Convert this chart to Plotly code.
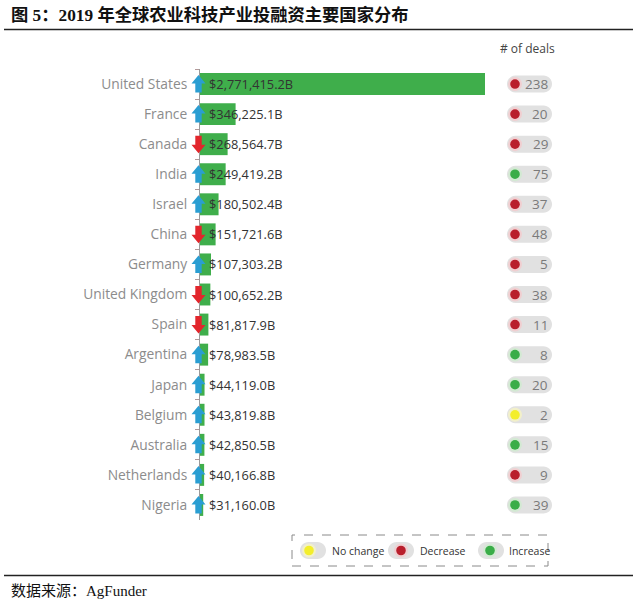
import plotly.graph_objects as go

W, H = 640, 605

countries = ["United States", "France", "Canada", "India", "Israel", "China", "Germany",
             "United Kingdom", "Spain", "Argentina", "Japan", "Belgium", "Australia",
             "Netherlands", "Nigeria"]
funding = [2771415.2, 346225.1, 268564.7, 249419.2, 180502.4, 151721.6, 107303.2,
           100652.2, 81817.9, 78983.5, 44119.0, 43819.8, 42850.5, 40166.8, 31160.0]
value_labels = ["$2,771,415.2B", "$346,225.1B", "$268,564.7B", "$249,419.2B", "$180,502.4B",
                "$151,721.6B", "$107,303.2B", "$100,652.2B", "$81,817.9B", "$78,983.5B",
                "$44,119.0B", "$43,819.8B", "$42,850.5B", "$40,166.8B", "$31,160.0B"]
rank_trend = ["up", "up", "down", "up", "up", "down", "up", "down", "down", "up",
              "up", "up", "up", "up", "up"]
deals = [238, 20, 29, 75, 37, 48, 5, 38, 11, 8, 20, 2, 15, 9, 39]
deal_trend = ["decrease", "decrease", "decrease", "increase", "decrease", "decrease",
              "decrease", "decrease", "decrease", "increase", "increase", "nochange",
              "increase", "decrease", "increase"]
legend_items = [("nochange", "No change"), ("decrease", "Decrease"), ("increase", "Increase")]

GREEN_BAR = "#3fae4b"
BLUE = "#2a9ed2"
RED_ARROW = "#e2262c"
dot_col = {"decrease": "#b91f2c", "increase": "#3aad48", "nochange": "#f3ee2c"}
halo_col = {"decrease": "#f0cfd1", "increase": "#d3e9d3", "nochange": "#f2f0c9"}
PILL = "#e1e1e1"
LABEL_FONT = "Open Sans"

def px_x(p):
    return p / W

def px_y(p):
    return 1 - p / H

fig = go.Figure()
fig.add_trace(go.Bar(
    x=funding, y=countries, orientation="h",
    marker=dict(color=GREEN_BAR, line=dict(width=0)),
    hoverinfo="skip",
))

shapes = []
annotations = []

# value labels
for c, lab in zip(countries, value_labels):
    annotations.append(dict(x=0, y=c, xref="x", yref="y", text=lab, showarrow=False,
                            xanchor="left", yanchor="middle", xshift=7,
                            font=dict(family=LABEL_FONT, size=12.8, color="#333333")))

# rank change arrows
def arrow_path(direction):
    sgn = 1 if direction == "up" else -1
    pts = [(-7, 0.5), (0, 9), (7, 0.5), (3.2, 0.5), (3.2, -8.5), (-3.2, -8.5), (-3.2, 0.5)]
    return "M " + " L ".join(f"{x - 1.5} {sgn * y}" for x, y in pts) + " Z"

for c, t in zip(countries, rank_trend):
    shapes.append(dict(type="path", xref="paper", yref="y", xsizemode="pixel", ysizemode="pixel",
                       xanchor=px_x(200), yanchor=c, path=arrow_path(t),
                       fillcolor=BLUE if t == "up" else RED_ARROW, line=dict(width=0),
                       layer="above"))

# pill helper (absolute pixel x, pixel y relative to anchor)
def pill_path(x0, x1, h):
    r = h / 2
    k = 0.5523 * r
    return (f"M {x0 + r} {r} L {x1 - r} {r} "
            f"C {x1 - r + k} {r} {x1} {k} {x1} 0 "
            f"C {x1} {-k} {x1 - r + k} {-r} {x1 - r} {-r} "
            f"L {x0 + r} {-r} "
            f"C {x0 + r - k} {-r} {x0} {-k} {x0} 0 "
            f"C {x0} {k} {x0 + r - k} {r} {x0 + r} {r} Z")

def circle(xc, r, yanchor, yref, color):
    return dict(type="circle", xref="paper", yref=yref, xsizemode="pixel", ysizemode="pixel",
                xanchor=0, yanchor=yanchor, x0=xc - r, x1=xc + r, y0=-r, y1=r,
                fillcolor=color, line=dict(width=0), layer="above")

# deals pills
for c, n, t in zip(countries, deals, deal_trend):
    shapes.append(dict(type="path", xref="paper", yref="y", xsizemode="pixel", ysizemode="pixel",
                       xanchor=0, yanchor=c, path=pill_path(507, 552, 17),
                       fillcolor=PILL, line=dict(width=0), layer="above"))
    shapes.append(circle(515, 7, c, "y", halo_col[t]))
    shapes.append(circle(515, 4.8, c, "y", dot_col[t]))
    annotations.append(dict(x=px_x(550), y=c, xref="paper", yref="y", text=str(n),
                            showarrow=False, xanchor="right", yanchor="middle",
                            font=dict(family=LABEL_FONT, size=13.5, color="#7a7a7a")))

annotations.append(dict(x=px_x(527), y=px_y(48), xref="paper", yref="paper", text="# of deals",
                        showarrow=False, xanchor="center", yanchor="middle",
                        font=dict(family=LABEL_FONT, size=12, color="#444444")))

# legend box
shapes.append(dict(type="rect", xref="paper", yref="paper",
                   x0=px_x(292), x1=px_x(548), y0=px_y(566), y1=px_y(535),
                   line=dict(color="#8a8a8a", width=1, dash="dash"), fillcolor="rgba(0,0,0,0)"))
leg_pill_x = [300, 388, 478]
leg_text_x = [330, 418, 507]
ly = px_y(550.5)
for (key, text), px0, tx in zip(legend_items, leg_pill_x, leg_text_x):
    shapes.append(dict(type="path", xref="paper", yref="paper", xsizemode="pixel", ysizemode="pixel",
                       xanchor=0, yanchor=ly, path=pill_path(px0, px0 + 26, 17),
                       fillcolor=PILL, line=dict(width=0)))
    cx = px0 + 9 if key == "nochange" else (px0 + 13 if key == "decrease" else px0 + 12)
    shapes.append(circle(cx, 7, ly, "paper", halo_col[key]))
    shapes.append(circle(cx, 4.8, ly, "paper", dot_col[key]))
    annotations.append(dict(x=px_x(tx), y=ly, xref="paper", yref="paper", text=text,
                            showarrow=False, xanchor="left", yanchor="middle",
                            font=dict(family=LABEL_FONT, size=10.5, color="#333333")))

# title, rules, source
annotations.append(dict(x=px_x(9), y=px_y(15), xref="paper", yref="paper",
                        text="<b>图 5：2019 年全球农业科技产业投融资主要国家分布</b>",
                        showarrow=False, xanchor="left", yanchor="middle",
                        font=dict(family="Liberation Serif, Noto Sans CJK SC", size=17.3, color="#111111")))
shapes.append(dict(type="line", xref="paper", yref="paper", x0=px_x(4), x1=px_x(633),
                   y0=px_y(29.5), y1=px_y(29.5), line=dict(color="#222222", width=1.6)))
shapes.append(dict(type="line", xref="paper", yref="paper", x0=px_x(4), x1=px_x(633),
                   y0=px_y(575.5), y1=px_y(575.5), line=dict(color="#222222", width=1.6)))
annotations.append(dict(x=px_x(9), y=px_y(591), xref="paper", yref="paper",
                        text="数据来源：AgFunder",
                        showarrow=False, xanchor="left", yanchor="middle",
                        font=dict(family="Liberation Serif, Noto Sans CJK SC", size=15, color="#111111")))

fig.update_layout(
    width=W, height=H,
    margin=dict(l=0, r=0, t=0, b=0),
    paper_bgcolor="white", plot_bgcolor="white",
    showlegend=False,
    bargap=0.27,
    shapes=shapes,
    annotations=annotations,
    xaxis=dict(domain=[px_x(200), px_x(485)], range=[0, funding[0]],
               showgrid=False, zeroline=False, showticklabels=False, showline=False, ticks=""),
    yaxis=dict(domain=[px_y(520), px_y(69)], type="category", categoryorder="array",
               categoryarray=countries, range=[14.5, -0.5],
               showgrid=False, zeroline=False, showline=True, linecolor="#9a9a9a", linewidth=1,
               ticks="outside", tickson="boundaries", ticklen=4, tickcolor="#b39a9a", tickwidth=1,
               ticklabelstandoff=9,
               tickfont=dict(family=LABEL_FONT, size=13.8, color="#8c8c8c")),
)

fig.write_html("out.html")
